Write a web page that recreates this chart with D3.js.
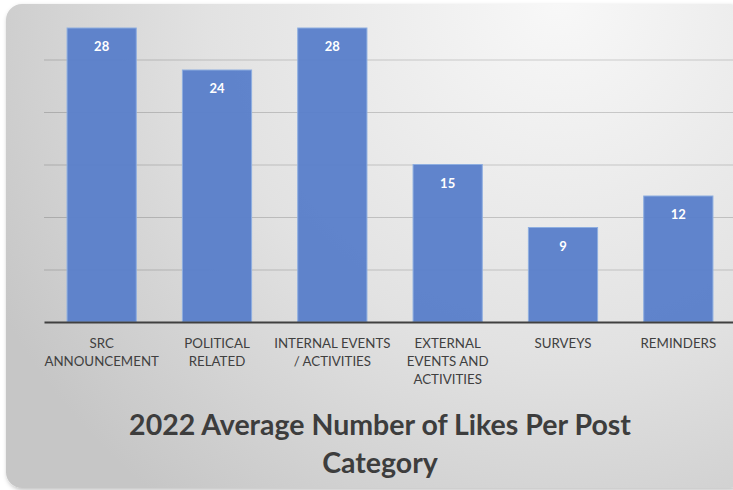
<!DOCTYPE html>
<html>
<head>
<meta charset="utf-8">
<script src="https://cdn.jsdelivr.net/npm/d3@7"></script>
<style>
  body { margin: 0; background: #fff; }
  svg { display: block; }
</style>
</head>
<body>
<div class="chart"></div>
<script>
// 2022 Average Number of Likes Per Post Category (Bar Chart)

// Chart data
var categories = ["SRC\nANNOUNCEMENT", "POLITICAL\nRELATED", "INTERNAL EVENTS\n/ ACTIVITIES",
                  "EXTERNAL\nEVENTS AND\nACTIVITIES", "SURVEYS", "REMINDERS"];
var likes = [28, 24, 28, 15, 9, 12];
var yTicks = [0, 5, 10, 15, 20, 25, 30];
var titleLines = ["2022 Average Number of Likes Per Post", "Category"];

// SVG Dimensions
var svgWidth = 733;
var svgHeight = 490;

var margin = { top: 7, right: -3, bottom: 168, left: 44 };
var plotWidth = svgWidth - margin.left - margin.right;
var plotHeight = svgHeight - margin.top - margin.bottom;

var svg = d3.select(".chart")
    .append("svg")
    .attr("width", svgWidth)
    .attr("height", svgHeight);

// Background panel with gradient
var defs = svg.append("defs");
var grad = defs.append("radialGradient")
    .attr("id", "panelGrad")
    .attr("gradientUnits", "userSpaceOnUse")
    .attr("cx", 560).attr("cy", 0).attr("r", 640);
grad.append("stop").attr("offset", "0%").attr("stop-color", "#f8f8f8");
grad.append("stop").attr("offset", "55%").attr("stop-color", "#e2e2e2");
grad.append("stop").attr("offset", "100%").attr("stop-color", "#c6c6c6");

var shadow = defs.append("filter").attr("id", "shadow")
    .attr("x", "-5%").attr("y", "-5%").attr("width", "110%").attr("height", "110%");
shadow.append("feDropShadow")
    .attr("dx", 1).attr("dy", 2).attr("stdDeviation", 2)
    .attr("flood-color", "#000").attr("flood-opacity", 0.25);

svg.append("rect")
    .attr("x", 6).attr("y", 4)
    .attr("width", 740).attr("height", 484)
    .attr("rx", 16)
    .attr("fill", "url(#panelGrad)")
    .attr("filter", "url(#shadow)");

var chartGroup = svg.append("g")
    .attr("transform", `translate(${margin.left}, ${margin.top})`);

// Scales
var xScale = d3.scaleBand()
    .domain(categories)
    .range([0, plotWidth])
    .paddingInner(0.4)
    .paddingOuter(0.2);

var yScale = d3.scaleLinear()
    .domain([0, 30])
    .range([plotHeight, 0]);

// Gridlines
var yAxis = d3.axisLeft(yScale)
    .tickValues(yTicks.slice(1, -1))
    .tickSize(-plotWidth)
    .tickFormat("");

chartGroup.append("g")
    .attr("class", "grid")
    .call(yAxis)
    .call(g => g.select(".domain").remove())
    .call(g => g.selectAll("line")
        .attr("stroke", "#000")
        .attr("stroke-opacity", 0.17)
        .attr("stroke-width", 1));

// Bars
chartGroup.selectAll(".bar")
    .data(likes)
    .enter()
    .append("rect")
    .attr("class", "bar")
    .attr("x", (d, i) => xScale(categories[i]))
    .attr("y", d => yScale(d))
    .attr("width", xScale.bandwidth())
    .attr("height", d => plotHeight - yScale(d))
    .attr("fill", "#5b80ca")
    .attr("fill-opacity", 0.97)
    .attr("stroke", "#8eaee0")
    .attr("stroke-width", 1);

// Value labels
chartGroup.selectAll(".value")
    .data(likes)
    .enter()
    .append("text")
    .attr("class", "value")
    .attr("x", (d, i) => xScale(categories[i]) + xScale.bandwidth() / 2)
    .attr("y", d => yScale(d) + 23)
    .attr("text-anchor", "middle")
    .attr("fill", "#fff")
    .attr("font-family", "Lato, 'Liberation Sans', sans-serif")
    .attr("font-weight", "bold")
    .attr("font-size", "13px")
    .text(d => d);

// X axis (baseline + category labels)
var xAxis = d3.axisBottom(xScale).tickSize(0).tickFormat("");
chartGroup.append("g")
    .attr("transform", `translate(0, ${plotHeight})`)
    .call(xAxis)
    .call(g => g.select(".domain")
        .attr("stroke", "#404040")
        .attr("stroke-width", 2));

var labels = chartGroup.selectAll(".cat")
    .data(categories)
    .enter()
    .append("text")
    .attr("class", "cat")
    .attr("x", d => xScale(d) + xScale.bandwidth() / 2)
    .attr("y", plotHeight + 26)
    .attr("text-anchor", "middle")
    .attr("fill", "#404040")
    .attr("font-family", "Lato, 'Liberation Sans', sans-serif")
    .attr("font-size", "13.3px");

labels.each(function(d) {
    var t = d3.select(this);
    d.split("\n").forEach(function(line, j) {
        t.append("tspan")
            .attr("x", xScale(d) + xScale.bandwidth() / 2)
            .attr("dy", j === 0 ? 0 : 18)
            .text(line);
    });
});

// Title
svg.selectAll(".title")
    .data(titleLines)
    .enter()
    .append("text")
    .attr("class", "title")
    .attr("x", 380)
    .attr("y", (d, i) => 435 + i * 38)
    .attr("text-anchor", "middle")
    .attr("fill", "#3d3d3d")
    .attr("font-family", "Lato, 'Liberation Sans', sans-serif")
    .attr("font-weight", "bold")
    .attr("font-size", "28.5px")
    .text(d => d);
</script>
</body>
</html>
